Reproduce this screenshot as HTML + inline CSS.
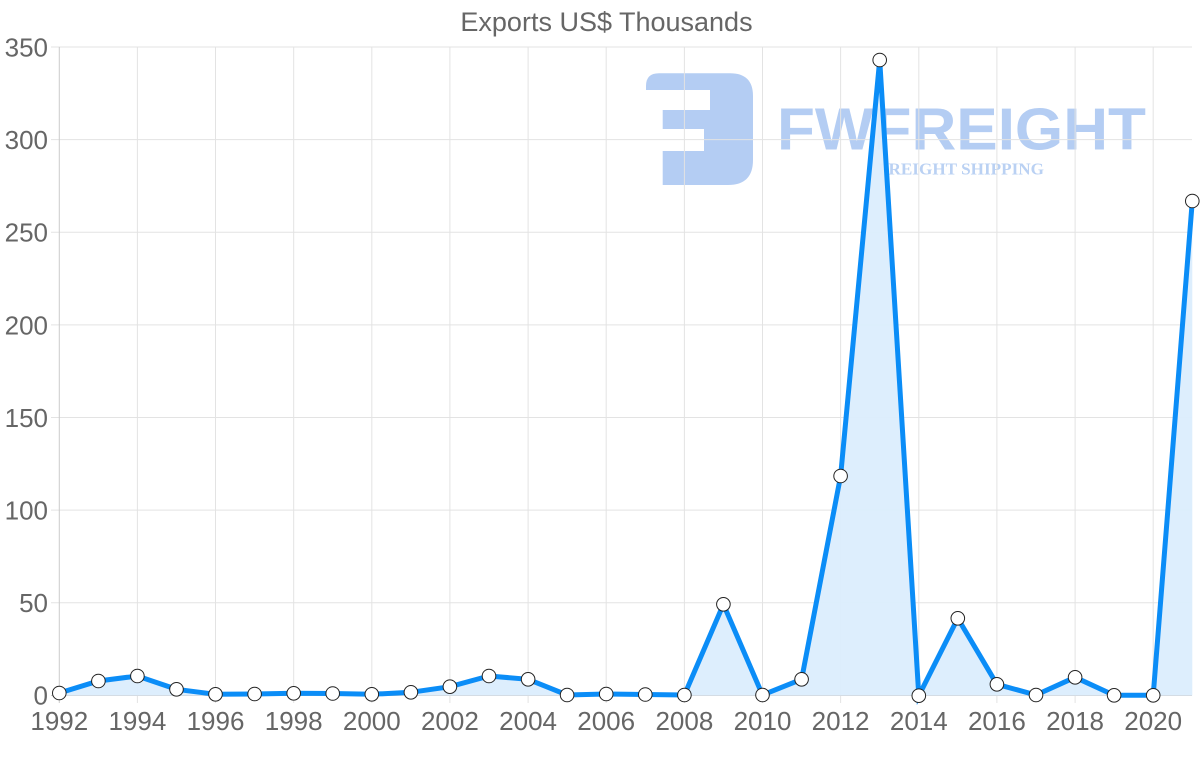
<!DOCTYPE html>
<html><head><meta charset="utf-8"><style>
html,body{margin:0;padding:0;background:#fff;}
svg{display:block;}
text{font-family:"Liberation Sans",Arial,sans-serif;}
</style></head><body>
<svg width="1200" height="763" viewBox="0 0 1200 763" xmlns="http://www.w3.org/2000/svg">
<rect width="1200" height="763" fill="#fff"/>
<!-- watermark -->
<g fill="#b4cdf3">
<path d="M646,90 L646,86 Q646,73.3 659,73.3 L730,73.3 Q753,73.3 753,96 L753,160 Q753,185 728,185 L662.7,185 L662.7,151 L704,151 L704,129 L662.7,129 L662.7,110 L710,110 L710,90 Z"/>
<text x="777" y="149.5" font-size="59" font-weight="bold" textLength="369" lengthAdjust="spacingAndGlyphs">FWFREIGHT</text>
<text x="878" y="174.5" font-size="16.5" font-weight="bold" style="font-family:'Liberation Serif',serif" textLength="166" lengthAdjust="spacingAndGlyphs" fill="#bad1f3">FREIGHT SHIPPING</text>
</g>
<!-- grid -->
<g stroke="#e3e3e3" stroke-width="1">
<line x1="51" y1="47" x2="1192" y2="47"/>
<line x1="51" y1="139.6" x2="1192" y2="139.6"/>
<line x1="51" y1="232.2" x2="1192" y2="232.2"/>
<line x1="51" y1="324.9" x2="1192" y2="324.9"/>
<line x1="51" y1="417.5" x2="1192" y2="417.5"/>
<line x1="51" y1="510.1" x2="1192" y2="510.1"/>
<line x1="51" y1="602.8" x2="1192" y2="602.8"/>
<line x1="137.4" y1="47" x2="137.4" y2="703"/>
<line x1="215.5" y1="47" x2="215.5" y2="703"/>
<line x1="293.7" y1="47" x2="293.7" y2="703"/>
<line x1="371.8" y1="47" x2="371.8" y2="703"/>
<line x1="449.9" y1="47" x2="449.9" y2="703"/>
<line x1="528.1" y1="47" x2="528.1" y2="703"/>
<line x1="606.2" y1="47" x2="606.2" y2="703"/>
<line x1="684.4" y1="47" x2="684.4" y2="703"/>
<line x1="762.5" y1="47" x2="762.5" y2="703"/>
<line x1="840.6" y1="47" x2="840.6" y2="703"/>
<line x1="918.8" y1="47" x2="918.8" y2="703"/>
<line x1="996.9" y1="47" x2="996.9" y2="703"/>
<line x1="1075.1" y1="47" x2="1075.1" y2="703"/>
<line x1="1153.2" y1="47" x2="1153.2" y2="703"/>
</g>
<g stroke="#cccccc" stroke-width="1">
<line x1="59.3" y1="47" x2="59.3" y2="703"/>
<line x1="51" y1="695.5" x2="1192" y2="695.5"/>
</g>
<!-- series -->
<path fill="#dbedfd" fill-opacity="0.95" d="M59.3,695.5 L59.3,693 L98.4,681 L137.4,676 L176.5,689.3 L215.5,694.3 L254.6,694 L293.7,693.3 L332.7,693.5 L371.8,694.3 L410.9,692.3 L449.9,686.7 L489,676 L528.1,679.3 L567.1,695 L606.2,694 L645.3,694.5 L684.4,695 L723.4,604.3 L762.5,695 L801.6,679.3 L840.6,476 L879.7,60 L918.8,695.7 L957.8,618.3 L996.9,684.3 L1036,695 L1075.1,677.3 L1114.1,695.3 L1153.2,695.3 L1192.3,201 L1192.3,695.5 Z"/>
<polyline fill="none" stroke="#0b8df7" stroke-width="5" stroke-linejoin="miter" stroke-miterlimit="10" points="59.3,693 98.4,681 137.4,676 176.5,689.3 215.5,694.3 254.6,694 293.7,693.3 332.7,693.5 371.8,694.3 410.9,692.3 449.9,686.7 489,676 528.1,679.3 567.1,695 606.2,694 645.3,694.5 684.4,695 723.4,604.3 762.5,695 801.6,679.3 840.6,476 879.7,60 918.8,695.7 957.8,618.3 996.9,684.3 1036,695 1075.1,677.3 1114.1,695.3 1153.2,695.3 1192.3,201"/>
<g fill="#fff" stroke="#222" stroke-width="1">
<circle cx="59.3" cy="693" r="6.8"/><circle cx="98.4" cy="681" r="6.8"/><circle cx="137.4" cy="676" r="6.8"/><circle cx="176.5" cy="689.3" r="6.8"/><circle cx="215.5" cy="694.3" r="6.8"/><circle cx="254.6" cy="694" r="6.8"/><circle cx="293.7" cy="693.3" r="6.8"/><circle cx="332.7" cy="693.5" r="6.8"/><circle cx="371.8" cy="694.3" r="6.8"/><circle cx="410.9" cy="692.3" r="6.8"/><circle cx="449.9" cy="686.7" r="6.8"/><circle cx="489" cy="676" r="6.8"/><circle cx="528.1" cy="679.3" r="6.8"/><circle cx="567.1" cy="695" r="6.8"/><circle cx="606.2" cy="694" r="6.8"/><circle cx="645.3" cy="694.5" r="6.8"/><circle cx="684.4" cy="695" r="6.8"/><circle cx="723.4" cy="604.3" r="6.8"/><circle cx="762.5" cy="695" r="6.8"/><circle cx="801.6" cy="679.3" r="6.8"/><circle cx="840.6" cy="476" r="6.8"/><circle cx="879.7" cy="60" r="6.8"/><circle cx="918.8" cy="695.7" r="6.8"/><circle cx="957.8" cy="618.3" r="6.8"/><circle cx="996.9" cy="684.3" r="6.8"/><circle cx="1036" cy="695" r="6.8"/><circle cx="1075.1" cy="677.3" r="6.8"/><circle cx="1114.1" cy="695.3" r="6.8"/><circle cx="1153.2" cy="695.3" r="6.8"/><circle cx="1192.3" cy="201" r="6.8"/>
</g>
<!-- title -->
<text x="606.5" y="31" font-size="27" fill="#666" text-anchor="middle">Exports US$ Thousands</text>
<!-- y labels -->
<g font-size="26" fill="#666" text-anchor="end">
<text x="48" y="56.5">350</text>
<text x="48" y="149">300</text>
<text x="48" y="241.6">250</text>
<text x="48" y="334.3">200</text>
<text x="48" y="426.9">150</text>
<text x="48" y="519.5">100</text>
<text x="48" y="612.2">50</text>
<text x="48" y="704.7">0</text>
</g>
<!-- x labels -->
<g font-size="26" fill="#666" text-anchor="middle">
<text x="59.3" y="730">1992</text>
<text x="137.4" y="730">1994</text>
<text x="215.5" y="730">1996</text>
<text x="293.7" y="730">1998</text>
<text x="371.8" y="730">2000</text>
<text x="449.9" y="730">2002</text>
<text x="528.1" y="730">2004</text>
<text x="606.2" y="730">2006</text>
<text x="684.4" y="730">2008</text>
<text x="762.5" y="730">2010</text>
<text x="840.6" y="730">2012</text>
<text x="918.8" y="730">2014</text>
<text x="996.9" y="730">2016</text>
<text x="1075.1" y="730">2018</text>
<text x="1153.2" y="730">2020</text>
</g>
</svg>
</body></html>
